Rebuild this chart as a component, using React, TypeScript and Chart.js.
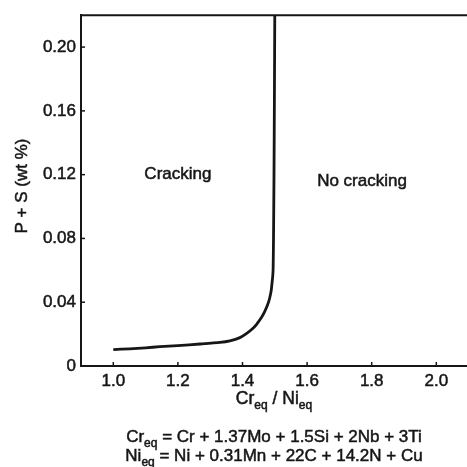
import React, { useEffect, useRef } from "react";
import { Chart, registerables } from "chart.js";

Chart.register(...registerables);

// Boundary curve between cracking / no cracking
const ratioValues = [1.0, 1.05, 1.1, 1.144, 1.2, 1.269, 1.33, 1.361, 1.392, 1.412, 1.43, 1.443, 1.458, 1.469, 1.478, 1.484, 1.489, 1.4917, 1.4935, 1.4948, 1.496, 1.4975, 1.4988, 1.4999];
const psValues = [0.0103, 0.0108, 0.0114, 0.0121, 0.0128, 0.0138, 0.0148, 0.0158, 0.0178, 0.0203, 0.0232, 0.026, 0.0302, 0.0343, 0.0385, 0.0425, 0.0475, 0.0527, 0.056, 0.061, 0.08, 0.12, 0.17, 0.22];

const xTicks = [1.0, 1.2, 1.4, 1.6, 1.8, 2.0];
const yTicks = [0, 0.04, 0.08, 0.12, 0.16, 0.2];
const yTickLabels = ["0", "0.04", "0.08", "0.12", "0.16", "0.20"];

const regionLabels = ["Cracking", "No cracking"];
const regionX = [1.2, 1.77];
const regionY = [0.12, 0.116];

type Part = { t: string; sub?: boolean };
const xTitle: Part[] = [{ t: "Cr" }, { t: "eq", sub: true }, { t: " / Ni" }, { t: "eq", sub: true }];
const yTitle = "P + S (wt %)";
const formulaCr: Part[] = [{ t: "Cr" }, { t: "eq", sub: true }, { t: " = Cr + 1.37Mo + 1.5Si + 2Nb + 3Ti" }];
const formulaNi: Part[] = [{ t: "Ni" }, { t: "eq", sub: true }, { t: " = Ni + 0.31Mn + 22C + 14.2N + Cu" }];

const FONT = "'Liberation Sans', Arial, Helvetica, sans-serif";
const INK = "#161616";
const STROKE = 0.5;

function drawRich(ctx: CanvasRenderingContext2D, parts: Part[], cx: number, y: number, size: number) {
  const subSize = Math.round(size * 0.7);
  let total = 0;
  const widths = parts.map((p) => {
    ctx.font = `${p.sub ? subSize : size}px ${FONT}`;
    const w = ctx.measureText(p.t).width;
    total += w;
    return w;
  });
  let x = cx - total / 2;
  ctx.textAlign = "left";
  ctx.textBaseline = "alphabetic";
  parts.forEach((p, i) => {
    ctx.font = `${p.sub ? subSize : size}px ${FONT}`;
    const yy = p.sub ? y + size * 0.28 : y;
    ctx.fillText(p.t, x, yy);
    ctx.strokeText(p.t, x, yy);
    x += widths[i];
  });
}

const decorPlugin = {
  id: "decor",
  afterDraw(chart: any) {
    const ctx: CanvasRenderingContext2D = chart.ctx;
    const { chartArea } = chart;
    const xs = chart.scales.x;
    const ys = chart.scales.y;
    ctx.save();
    ctx.strokeStyle = INK;
    ctx.fillStyle = INK;
    // top border
    ctx.lineWidth = 2;
    ctx.beginPath();
    ctx.moveTo(chartArea.left - 1, chartArea.top);
    ctx.lineTo(chartArea.right, chartArea.top);
    ctx.stroke();
    // inward ticks
    ctx.lineWidth = 1.5;
    xTicks.forEach((v) => {
      const px = xs.getPixelForValue(v);
      ctx.beginPath();
      ctx.moveTo(px, chartArea.bottom);
      ctx.lineTo(px, chartArea.bottom - 4);
      ctx.stroke();
    });
    yTicks.forEach((v) => {
      if (v === 0) return;
      const py = ys.getPixelForValue(v);
      ctx.beginPath();
      ctx.moveTo(chartArea.left, py);
      ctx.lineTo(chartArea.left + 4, py);
      ctx.stroke();
    });
    ctx.lineWidth = STROKE;
    // region labels
    ctx.font = `17px ${FONT}`;
    ctx.textAlign = "center";
    ctx.textBaseline = "middle";
    regionLabels.forEach((t, i) => {
      const px = xs.getPixelForValue(regionX[i]);
      const py = ys.getPixelForValue(regionY[i]);
      ctx.fillText(t, px, py);
      ctx.strokeText(t, px, py);
    });
    // y title
    ctx.save();
    ctx.translate(22, 186);
    ctx.rotate(-Math.PI / 2);
    ctx.font = `17px ${FONT}`;
    ctx.textAlign = "center";
    ctx.textBaseline = "middle";
    ctx.fillText(yTitle, 0, 0);
    ctx.strokeText(yTitle, 0, 0);
    ctx.restore();
    // x title & formulas
    drawRich(ctx, xTitle, 274, 404, 17.5);
    drawRich(ctx, formulaCr, 274, 442, 17);
    drawRich(ctx, formulaNi, 274, 461, 17);
    ctx.restore();
  },
};

export default function App() {
  const ref = useRef<HTMLCanvasElement>(null);
  useEffect(() => {
    if (!ref.current) return;
    const chart = new Chart(ref.current, {
      type: "scatter",
      data: {
        datasets: [
          {
            data: ratioValues.map((x, i) => ({ x, y: psValues[i] })),
            showLine: true,
            borderColor: INK,
            borderWidth: 2.8,
            pointRadius: 0,
            tension: 0.2,
            fill: false,
          },
        ],
      },
      options: {
        animation: false,
        responsive: false,
        devicePixelRatio: 1,
        layout: { padding: { top: 9, right: 0, left: 0, bottom: 0 } },
        plugins: { legend: { display: false }, tooltip: { enabled: false }, title: { display: false } },
        scales: {
          x: {
            type: "linear",
            min: 0.9,
            max: 2.095,
            afterBuildTicks: (s: any) => {
              s.ticks = xTicks.map((value) => ({ value }));
            },
            afterFit: (s: any) => {
              s.height = 101;
            },
            grid: { display: false, drawTicks: false },
            border: { display: true, color: INK, width: 2 },
            ticks: {
              padding: 5,
              color: INK,
              textStrokeColor: INK,
              textStrokeWidth: STROKE,
              font: { size: 17, family: FONT },
              maxRotation: 0,
              callback: (v: any) => Number(v).toFixed(1),
            },
          },
          y: {
            type: "linear",
            min: 0,
            max: 0.22,
            afterBuildTicks: (s: any) => {
              s.ticks = yTicks.map((value) => ({ value }));
            },
            afterFit: (s: any) => {
              s.width = 81;
            },
            grid: { display: false, drawTicks: false },
            border: { display: true, color: INK, width: 2 },
            ticks: {
              padding: 5,
              color: INK,
              textStrokeColor: INK,
              textStrokeWidth: STROKE,
              font: { size: 17, family: FONT },
              callback: (v: any) => {
                const i = yTicks.findIndex((t) => Math.abs(t - Number(v)) < 1e-9);
                return i >= 0 ? yTickLabels[i] : "";
              },
            },
          },
        },
      },
      plugins: [decorPlugin],
    });
    return () => chart.destroy();
  }, []);
  return (
    <div style={{ position: "fixed", left: 0, top: 0, width: 467, height: 467, background: "#fff" }}>
      <canvas ref={ref} width={467} height={467} style={{ display: "block" }} />
    </div>
  );
}
